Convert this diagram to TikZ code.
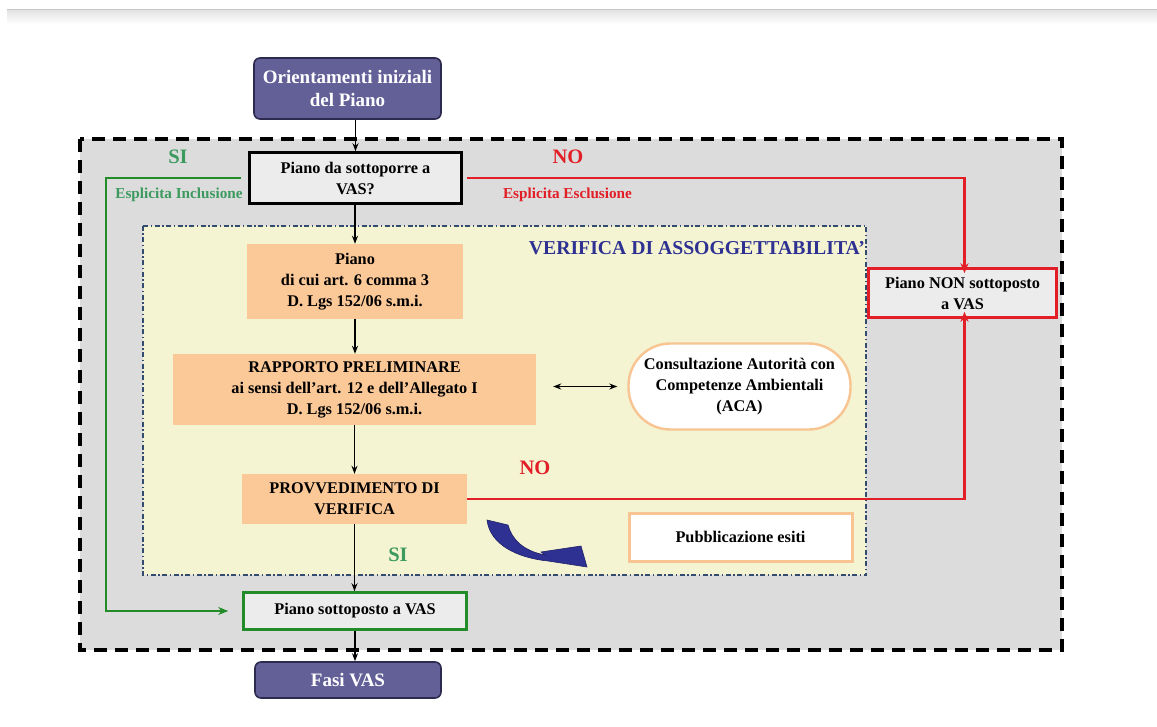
\documentclass[tikz,border=0pt]{standalone}
\usepackage{fontspec}
\setmainfont{Liberation Serif}
\usetikzlibrary{arrows.meta}
\definecolor{purp}{RGB}{99,96,152}
\definecolor{purpd}{RGB}{45,42,80}
\definecolor{orfill}{RGB}{251,200,152}
\definecolor{orline}{RGB}{247,196,146}
\definecolor{yel}{RGB}{244,243,210}
\definecolor{gry}{RGB}{220,220,220}
\definecolor{boxg}{RGB}{236,236,236}
\definecolor{grn}{RGB}{34,140,40}
\definecolor{grntxt}{RGB}{60,154,95}
\definecolor{rd}{RGB}{226,30,38}
\definecolor{blu}{RGB}{46,49,146}
\definecolor{dashblu}{RGB}{50,75,110}
\tikzset{
  txt/.style={font=\bfseries\fontsize{16.3}{21}\selectfont, align=center, text=black, inner sep=0pt},
  purpbox/.style={txt, draw=purpd, line width=1.6pt, fill=purp, rounded corners=6pt, text=white, font=\bfseries\fontsize{19}{23.5}\selectfont},
  orbox/.style={txt, fill=orfill},
  arr/.style={-{Stealth[length=8pt,width=6pt]}, line width=1.2pt, black},
  lbl/.style={font=\bfseries\fontsize{20.5}{24}\selectfont, inner sep=0pt},
  smalllbl/.style={font=\bfseries\fontsize{15.2}{18}\selectfont, inner sep=0pt},
}
\begin{document}
\begin{tikzpicture}[x=1pt,y=-1pt]
\useasboundingbox (0,0) rectangle (1157,727);
\fill[white] (0,0) rectangle (1157,727);
% top strip
\shade[top color=gray!22, bottom color=white] (7,10) rectangle (1157,24);
\draw[gray!45, line width=0.8pt] (7,9.5) -- (1157,9.5);
% frames
\filldraw[fill=gry, draw=black, line width=3.8pt, dash pattern=on 13pt off 8pt] (80,139) rectangle (1062,650);
\filldraw[fill=yel, draw=dashblu, line width=1.6pt, dash pattern=on 5pt off 2.5pt on 1.5pt off 2.5pt] (143,226) rectangle (866,575);
% nodes
\node[purpbox, minimum width=187pt, minimum height=61pt] (orient) at (347.5,88.5) {Orientamenti iniziali\\del Piano};
\node[txt, draw=black, line width=2.6pt, fill=boxg, minimum width=212pt, minimum height=51pt] (vas) at (355.5,178) {Piano da sottoporre a\\VAS?};
\node[orbox, minimum width=216pt, minimum height=75pt] (piano6) at (355,281.5) {Piano\\di cui art. 6 comma 3\\D. Lgs 152/06 s.m.i.};
\node[orbox, minimum width=363pt, minimum height=71pt] (rapp) at (354.5,389.5) {RAPPORTO PRELIMINARE\\ai sensi dell’art. 12 e dell’Allegato I\\D. Lgs 152/06 s.m.i.};
\node[orbox, minimum width=225pt, minimum height=50pt] (prov) at (354.5,499) {PROVVEDIMENTO DI\\VERIFICA};
\node[txt, draw=grn, line width=2.6pt, fill=boxg, minimum width=223pt, minimum height=37pt] (sott) at (355,611) {Piano sottoposto a VAS};
\node[purpbox, minimum width=186pt, minimum height=36pt] (fasi) at (348,680) {Fasi VAS};
\node[txt, draw=rd, line width=2.6pt, fill=boxg, minimum width=188pt, minimum height=49pt] (non) at (962.5,293) {Piano NON sottoposto\\a VAS};
\node[txt, draw=orline, line width=2.4pt, fill=white, rounded corners=42pt, minimum width=222pt, minimum height=86pt] (aca) at (739.5,386.5) {Consultazione Autorità con\\Competenze Ambientali\\(ACA)};
\node[txt, draw=orline, line width=3pt, fill=white, minimum width=223pt, minimum height=48pt] (pubb) at (740.5,537) {Pubblicazione esiti};
% labels
\node[lbl, text=grntxt] (si1) at (178,157) {SI};
\node[smalllbl, text=grntxt] (inc) at (179,195) {Esplicita Inclusione};
\node[lbl, text=rd] (no1) at (568,157) {NO};
\node[smalllbl, text=rd] (esc) at (567.5,195) {Esplicita Esclusione};
\node[font=\bfseries\fontsize{19.7}{23}\selectfont, text=blu, inner sep=0pt] (verif) at (697,248) {VERIFICA DI ASSOGGETTABILITA’};
\node[lbl, text=rd] (no2) at (535,468) {NO};
\node[lbl, text=grntxt] (si2) at (398,555) {SI};
% connectors
\draw[arr] (orient.south -| vas.north) -- (vas.north);
\draw[arr] (vas.south -| piano6.north) -- (piano6.north);
\draw[arr] (piano6.south) -- (piano6.south |- rapp.north);
\draw[arr] (rapp.south) -- (rapp.south |- prov.north);
\draw[arr] (prov.south) -- (prov.south |- sott.north);
\draw[arr] (sott.south) -- (sott.south |- fasi.north);
\draw[{Stealth[length=8pt,width=6pt]}-{Stealth[length=8pt,width=6pt]}, line width=1.2pt, shorten <=17pt, shorten >=10pt] (rapp.east |- aca.west) -- (aca.west);
\coordinate (gl) at (106,0);
\coordinate (rl) at (964.5,0);
\draw[grn, line width=2.6pt, -{Stealth[length=10pt,width=8pt]}] ([xshift=-7pt]vas.west) -| (gl |- sott.west) -- ([xshift=-14pt]sott.west);
\draw[rd, line width=2.6pt, -{Stealth[length=10pt,width=8pt]}] ([xshift=4pt]vas.east) -| ([yshift=-6pt]rl |- non.north);
\draw[rd, line width=2.6pt, -{Stealth[length=10pt,width=8pt]}] (prov.east) -| ([yshift=7pt]rl |- non.south);
% curved block arrow
\filldraw[fill=blu, draw=blu!70!black, line width=0.6pt]
  (487,520) -- (508,525) .. controls (512,540) and (524,551) .. (545,555)
  -- (541,552) -- (581,546) -- (587,567) -- (548,561)
  .. controls (518,558) and (490,545) .. (487,520) -- cycle;
\end{tikzpicture}
\end{document}
